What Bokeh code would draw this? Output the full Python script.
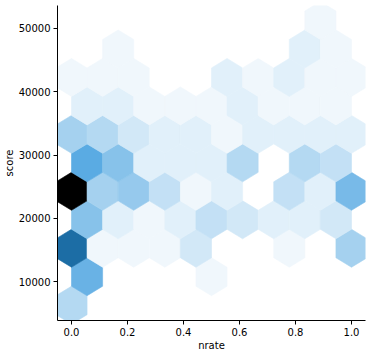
import colorsys
from bokeh.plotting import figure
from bokeh.models import FixedTicker, ColumnDataSource
from bokeh.embed import file_html
from bokeh.resources import INLINE

x_ticks = [0.0, 0.2, 0.4, 0.6, 0.8, 1.0]
x_labels = ["0.0", "0.2", "0.4", "0.6", "0.8", "1.0"]
y_ticks = [10000, 20000, 30000, 40000, 50000]
y_labels = ["10000", "20000", "30000", "40000", "50000"]

# Hex counts, bottom row first. Even rows start at nrate 0, odd rows half a bin later.
row0 = [5, 0, 0, 0, 0, 0, 0, 0, 0, 0]
row1 = [10, 0, 0, 0, 1, 0, 0, 0, 0]
row2 = [18, 1, 1, 1, 3, 0, 0, 1, 0, 6]
row3 = [8, 2, 1, 2, 4, 3, 2, 2, 3]
row4 = [29, 6, 7, 4, 1, 2, 0, 4, 2, 9]
row5 = [11, 8, 2, 2, 2, 5, 0, 5, 4]
row6 = [6, 5, 3, 2, 2, 1, 2, 2, 2, 2]
row7 = [2, 2, 1, 1, 1, 2, 1, 1, 1]
row8 = [1, 1, 1, 0, 0, 2, 1, 2, 1, 1]
row9 = [0, 1, 0, 0, 0, 0, 0, 2, 1]
row10 = [0, 0, 0, 0, 0, 0, 0, 0, 1, 0]
rows = [row0, row1, row2, row3, row4, row5, row6, row7, row8, row9, row10]
max_count = 29
y_start = 6330.0
y_step = 4488.0
x_step = 1 / 9


def shade(n):
    r, g, b = colorsys.hls_to_rgb(0.5682, 1 - n / max_count, 0.706)
    return "#%02x%02x%02x" % (round(r * 255), round(g * 255), round(b * 255))


xs, ys, colors = [], [], []
for i, row in enumerate(rows):
    cy = y_start + i * y_step
    for j, n in enumerate(row):
        if n == 0:
            continue
        cx = (j + (0.5 if i % 2 else 0)) * x_step
        hw = x_step / 2
        a = y_step * 2 / 3
        b = y_step / 3
        xs.append([cx - hw, cx - hw, cx, cx + hw, cx + hw, cx])
        ys.append([cy - b, cy + b, cy + a, cy + b, cy - b, cy - a])
        colors.append(shade(n))

p = figure(
    width=371, height=356, output_backend="svg", toolbar_location=None,
    x_range=(-0.05, 1.05), y_range=(3920, 53575),
    min_border_left=57, min_border_right=6, min_border_top=5, min_border_bottom=36,
    margin=(0, 0, 0, 0),
)
p.patches("xs", "ys", source=ColumnDataSource(dict(xs=xs, ys=ys, c=colors)),
          fill_color="c", line_color="c", line_width=0.6, fill_alpha=1.0, line_alpha=1.0)

p.grid.visible = False
p.outline_line_color = None
p.background_fill_color = "white"

for ax, ticks, labels, name in ((p.xaxis[0], x_ticks, x_labels, "nrate"),
                                (p.yaxis[0], y_ticks, y_labels, "score")):
    ax.ticker = FixedTicker(ticks=ticks)
    ax.major_label_overrides = dict(zip(ticks, labels))
    ax.axis_label = name
    ax.axis_label_text_font = "DejaVu Sans"
    ax.axis_label_text_font_size = "10px"
    ax.axis_label_text_font_style = "normal"
    ax.axis_label_text_color = "black"
    ax.major_label_text_font = "DejaVu Sans"
    ax.major_label_text_font_size = "10px"
    ax.major_label_text_color = "black"
    ax.major_tick_in = 0
    ax.major_tick_out = 4
    ax.minor_tick_line_color = None
    ax.axis_line_color = "black"
    ax.major_tick_line_color = "black"
    ax.major_label_standoff = 3
    ax.axis_label_standoff = 1

p.yaxis[0].major_label_orientation = "horizontal"

open("out.html", "w").write(file_html(p, INLINE))
